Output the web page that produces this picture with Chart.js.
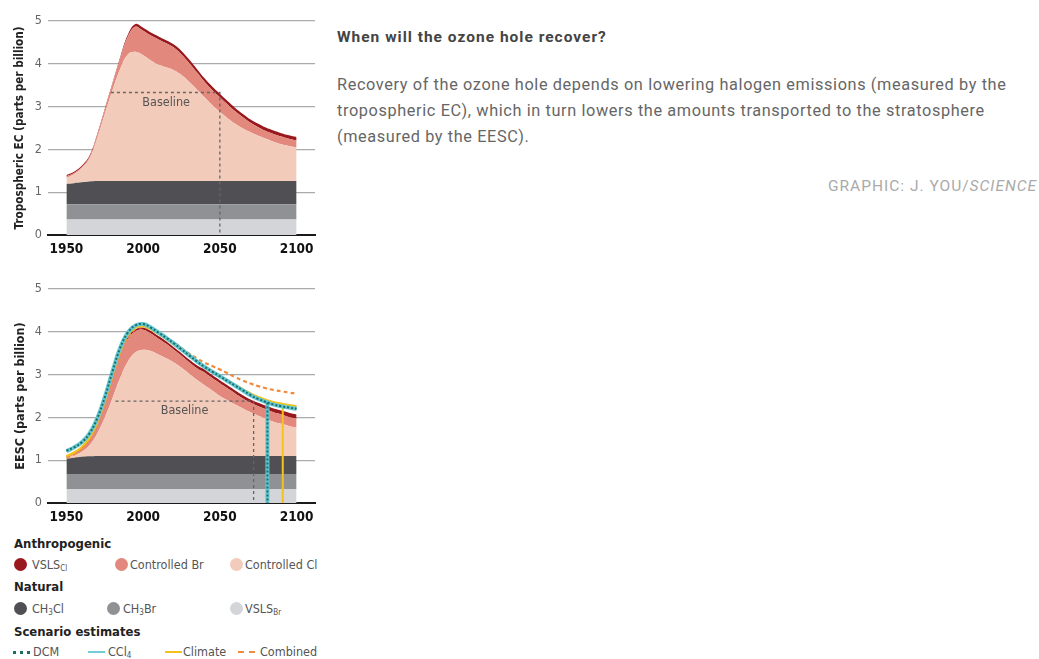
<!DOCTYPE html>
<html>
<head>
<meta charset="utf-8">
<script src="https://cdn.jsdelivr.net/npm/chart.js@4.4.1/dist/chart.umd.min.js"></script>
<style>
  body { margin:0; background:#fff; width:1039px; height:659px; position:relative; overflow:hidden; font-family: Roboto, sans-serif; }
  .box { position:absolute; left:0; width:330px; height:265px; }
  #box1 { top:0; }
  #box2 { top:268px; }
  .cond { font-family: "Liberation Sans Narrow", "DejaVu Sans Condensed", sans-serif; }
  .abs { position:absolute; white-space:nowrap; }
  .hdr { font-weight:bold; font-size:13px; color:#222; line-height:16px; }
  .item { font-size:12.5px; color:#555; line-height:16px; }
  .item sub { font-size:8px; vertical-align:-2px; line-height:0; }
  .dot { position:absolute; width:13px; height:13px; border-radius:50%; }
  .ln { position:absolute; width:17px; height:0; }
  #title { left:337px; top:28px; font-weight:bold; font-size:15.5px; letter-spacing:1px; color:#444; line-height:18px; }
  #para { left:337px; top:72px; font-size:16.3px; letter-spacing:0.62px; color:#666; line-height:26px; }
  #credit { right:2px; top:177px; font-size:15.5px; letter-spacing:1px; color:#aaa; line-height:18px; }
</style>
</head>
<body>
<div class="box" id="box1"><canvas id="ec"></canvas></div>
<div class="box" id="box2"><canvas id="eesc"></canvas></div>

<div class="cond">
  <div class="abs hdr" style="left:14px;top:536px">Anthropogenic</div>
  <div class="dot" style="left:14px;top:558px;background:#99181d"></div>
  <div class="abs item" style="left:32px;top:557px">VSLS<sub>Cl</sub></div>
  <div class="dot" style="left:115px;top:558px;background:#e2887c"></div>
  <div class="abs item" style="left:130px;top:557px">Controlled Br</div>
  <div class="dot" style="left:230px;top:558px;background:#f3cbbb"></div>
  <div class="abs item" style="left:245px;top:557px">Controlled Cl</div>

  <div class="abs hdr" style="left:14px;top:579px">Natural</div>
  <div class="dot" style="left:14px;top:602px;background:#505054"></div>
  <div class="abs item" style="left:32px;top:601px">CH<sub>3</sub>Cl</div>
  <div class="dot" style="left:107px;top:602px;background:#8f9194"></div>
  <div class="abs item" style="left:123px;top:601px">CH<sub>3</sub>Br</div>
  <div class="dot" style="left:230px;top:602px;background:#d4d5d8"></div>
  <div class="abs item" style="left:245px;top:601px">VSLS<sub>Br</sub></div>

  <div class="abs hdr" style="left:14px;top:624px">Scenario estimates</div>
  <div class="ln" style="left:13px;top:651px;border-top:3px dotted #1b6e63"></div>
  <div class="abs item" style="left:33px;top:644px">DCM</div>
  <div class="ln" style="left:88px;top:651px;border-top:2px solid #72ccd6"></div>
  <div class="abs item" style="left:108px;top:644px">CCl<sub>4</sub></div>
  <div class="ln" style="left:165px;top:651px;border-top:2px solid #f5c21b"></div>
  <div class="abs item" style="left:183px;top:644px">Climate</div>
  <div class="ln" style="left:238px;top:651px;border-top:2.5px dashed #f08a3c"></div>
  <div class="abs item" style="left:260px;top:644px">Combined</div>
</div>

<div class="abs" id="title">When will the ozone hole recover?</div>
<div class="abs" id="para">Recovery of the ozone hole depends on lowering halogen emissions (measured by the<br>tropospheric EC), which in turn lowers the amounts transported to the stratosphere<br>(measured by the EESC).</div>
<div class="abs" id="credit">GRAPHIC: J. YOU/<i>SCIENCE</i></div>

<script>
const years = [1950,1955,1960,1965,1970,1975,1980,1985,1990,1995,2000,2005,2010,2015,2020,2025,
               2030,2035,2040,2045,2050,2055,2060,2065,2070,2075,2080,2085,2090,2095,2100];
const xTicks = [1950, 2000, 2050, 2100];
const yTicks = [0, 1, 2, 3, 4, 5];

// Tropospheric EC, stacked contributions (ppb)
const ecVslsBr = [0.36,0.36,0.36,0.36,0.36,0.36,0.36,0.36,0.36,0.36,0.36,0.36,0.36,0.36,0.36,0.36,
                  0.36,0.36,0.36,0.36,0.36,0.36,0.36,0.36,0.36,0.36,0.36,0.36,0.36,0.36,0.36];
const ecCh3Br  = [0.36,0.36,0.36,0.36,0.36,0.36,0.36,0.36,0.36,0.36,0.36,0.36,0.36,0.36,0.36,0.36,
                  0.36,0.36,0.36,0.36,0.36,0.36,0.36,0.36,0.36,0.36,0.36,0.36,0.36,0.36,0.36];
const ecCh3Cl  = [0.47,0.49,0.51,0.53,0.54,0.54,0.54,0.54,0.54,0.54,0.54,0.54,0.54,0.54,0.54,0.54,
                  0.54,0.54,0.54,0.54,0.54,0.54,0.54,0.54,0.54,0.54,0.54,0.54,0.54,0.54,0.54];
const ecCtrlCl = [0.14,0.21,0.33,0.53,0.99,1.56,2.12,2.62,2.96,3.02,2.94,2.82,2.72,2.66,2.59,2.48,
                  2.32,2.14,1.96,1.78,1.62,1.47,1.34,1.23,1.14,1.06,0.99,0.92,0.86,0.82,0.78];
const ecCtrlBr = [0.04,0.03,0.03,0.04,0.07,0.10,0.14,0.23,0.41,0.59,0.57,0.58,0.59,0.56,0.53,0.48,
                  0.44,0.40,0.36,0.35,0.34,0.32,0.29,0.26,0.22,0.20,0.18,0.18,0.18,0.17,0.17];
const ecVslsCl = [0.03,0.03,0.03,0.03,0.03,0.03,0.03,0.04,0.05,0.06,0.07,0.07,0.07,0.07,0.07,0.08,
                  0.08,0.08,0.08,0.08,0.08,0.08,0.08,0.08,0.08,0.08,0.08,0.08,0.08,0.08,0.08];
const ecBaseline = [[1979, 3.33], [2050, 3.33], [2050, 0]];

// EESC, stacked contributions (ppb)
const esVslsBr = [0.33,0.33,0.33,0.33,0.33,0.33,0.33,0.33,0.33,0.33,0.33,0.33,0.33,0.33,0.33,0.33,
                  0.33,0.33,0.33,0.33,0.33,0.33,0.33,0.33,0.33,0.33,0.33,0.33,0.33,0.33,0.33];
const esCh3Br  = [0.35,0.35,0.35,0.35,0.35,0.35,0.35,0.35,0.35,0.35,0.35,0.35,0.35,0.35,0.35,0.35,
                  0.35,0.35,0.35,0.35,0.35,0.35,0.35,0.35,0.35,0.35,0.35,0.35,0.35,0.35,0.35];
const esCh3Cl  = [0.36,0.38,0.40,0.41,0.42,0.42,0.42,0.42,0.42,0.42,0.42,0.42,0.42,0.42,0.42,0.42,
                  0.42,0.42,0.42,0.42,0.42,0.42,0.42,0.42,0.42,0.42,0.42,0.42,0.42,0.42,0.42];
const esCtrlCl = [0.03,0.06,0.12,0.26,0.52,0.90,1.35,1.82,2.20,2.42,2.48,2.45,2.37,2.28,2.18,2.06,
                  1.92,1.78,1.65,1.53,1.40,1.30,1.20,1.11,1.02,0.94,0.87,0.80,0.75,0.70,0.66];
const esCtrlBr = [0.01,0.03,0.07,0.12,0.20,0.32,0.47,0.54,0.53,0.49,0.47,0.41,0.37,0.34,0.30,0.28,
                  0.27,0.27,0.30,0.29,0.30,0.28,0.26,0.23,0.22,0.22,0.22,0.22,0.22,0.21,0.21];
const esVslsCl = [0.03,0.03,0.03,0.03,0.03,0.03,0.03,0.04,0.05,0.05,0.05,0.06,0.06,0.06,0.06,0.06,
                  0.06,0.07,0.07,0.07,0.07,0.07,0.07,0.08,0.08,0.08,0.08,0.09,0.09,0.10,0.10];
const esBaseline = [[1982, 2.38], [2072, 2.38], [2072, 0]];

// EESC scenario estimates (ppb)
const dcm      = [1.22,1.30,1.42,1.62,1.97,2.47,3.07,3.62,3.98,4.15,4.18,4.10,3.98,3.86,3.73,3.59,
                  3.45,3.31,3.18,3.07,2.96,2.85,2.74,2.63,2.52,2.43,2.36,2.30,2.26,2.23,2.20];
const ccl4     = [1.21,1.30,1.42,1.62,1.97,2.47,3.07,3.62,3.98,4.15,4.18,4.10,3.98,3.86,3.73,3.59,
                  3.45,3.31,3.18,3.07,2.96,2.85,2.74,2.63,2.52,2.43,2.36,2.30,2.26,2.23,2.20];
const climate  = [1.10,1.18,1.31,1.52,1.88,2.38,2.98,3.54,3.92,4.10,4.13,4.06,3.95,3.83,3.70,3.57,
                  3.43,3.30,3.17,3.06,2.96,2.86,2.76,2.66,2.56,2.48,2.41,2.36,2.32,2.29,2.26];
const combined = [1.06,1.14,1.27,1.48,1.84,2.34,2.94,3.50,3.88,4.07,4.11,4.06,3.97,3.87,3.75,3.62,
                  3.49,3.38,3.28,3.20,3.12,3.03,2.94,2.86,2.79,2.73,2.68,2.64,2.61,2.58,2.56];
const dcmReturn     = [[2081, 2.35], [2081, 0]];
const climateReturn = [[2091, 2.31], [2091, 0]];

const COND = '"Liberation Sans Narrow", "DejaVu Sans Condensed", sans-serif';
Chart.defaults.font.family = COND;

function pts(vals) { return vals.map((v, i) => ({ x: years[i], y: v })); }
function xy(pairs) { return pairs.map(p => ({ x: p[0], y: p[1] })); }

function areaSets(parts) {
  const colors = ['#d4d5d8', '#8f9194', '#505054', '#f3cbbb', '#e2887c', '#99181d'];
  return parts.map((vals, i) => ({
    data: pts(vals), backgroundColor: colors[i], borderWidth: 0,
    fill: i === 0 ? 'origin' : '-1', pointRadius: 0, tension: 0.4, order: 10
  }));
}

function lineSet(data, color, width, dash, order, tension) {
  return { data: data, borderColor: color, borderWidth: width, borderDash: dash,
           fill: false, pointRadius: 0, tension: tension, yAxisID: 'yl', order: order };
}

const labelPlugin = {
  id: 'baselineLabel',
  afterDatasetsDraw(chart, args, opts) {
    const ctx = chart.ctx;
    ctx.save();
    ctx.font = '12.5px ' + COND;
    ctx.fillStyle = '#555';
    ctx.textAlign = 'center';
    ctx.textBaseline = 'middle';
    ctx.fillText('Baseline', chart.scales.x.getPixelForValue(opts.at[0]), chart.scales.y.getPixelForValue(opts.at[1]));
    ctx.restore();
  }
};

function makeChart(id, datasets, yTitle, titleSize, labelAt) {
  return new Chart(document.getElementById(id), {
    type: 'line',
    data: { datasets: datasets },
    plugins: [labelPlugin],
    options: {
      responsive: true, maintainAspectRatio: false, animation: false,
      layout: { padding: { top: 21, right: 15, left: 0, bottom: 0 } },
      plugins: { legend: { display: false }, tooltip: { enabled: false }, baselineLabel: { at: labelAt } },
      scales: {
        x: {
          type: 'linear', min: 1938, max: 2112, z: 1,
          afterBuildTicks: s => { s.ticks = xTicks.map(v => ({ value: v })); },
          afterFit: s => { s.height = 30; },
          grid: { display: false, drawTicks: false },
          border: { color: '#1a1a1a', width: 2 },
          ticks: { color: '#111', font: { size: 13.5, weight: 'bold' }, padding: 6, maxRotation: 0, callback: v => String(v) }
        },
        y: {
          stacked: true, min: 0, max: 5,
          afterBuildTicks: s => { s.ticks = yTicks.map(v => ({ value: v })); },
          afterFit: s => { s.width = 48; },
          grid: { color: '#aaaaaa', lineWidth: 1.3, drawTicks: false },
          border: { display: false },
          ticks: { color: '#666', font: { size: 12.5 }, padding: 6 },
          title: { display: true, text: yTitle, color: '#222', font: { size: titleSize, weight: 'bold' }, padding: { top: 13, bottom: 0 } }
        },
        yl: { display: false, stacked: false, min: 0, max: 5 }
      }
    }
  });
}

makeChart('ec', [
  ...areaSets([ecVslsBr, ecCh3Br, ecCh3Cl, ecCtrlCl, ecCtrlBr, ecVslsCl]),
  lineSet(xy(ecBaseline), '#666', 1.3, [3, 3], 5, 0)
], 'Tropospheric EC (parts per billion)', 11.7, [2015, 3.08]);

makeChart('eesc', [
  ...areaSets([esVslsBr, esCh3Br, esCh3Cl, esCtrlCl, esCtrlBr, esVslsCl]),
  lineSet(xy(esBaseline), '#666', 1.3, [3, 3], 5, 0),
  lineSet(pts(combined), '#f08a3c', 2.2, [4, 3], 4, 0.4),
  lineSet(pts(climate), '#f5c21b', 2.2, [], 3, 0.4),
  lineSet(xy(climateReturn), '#f5c21b', 2, [], 3, 0),
  lineSet(pts(ccl4), '#62c6d2', 4, [], 2, 0.4),
  lineSet(xy(dcmReturn), '#62c6d2', 4, [], 2, 0),
  lineSet(pts(dcm), '#1b6e63', 2, [2, 2], 1, 0.4),
  lineSet(xy(dcmReturn), '#1b6e63', 2, [2, 2], 1, 0)
], 'EESC (parts per billion)', 12.5, [2027, 2.16]);
</script>
</body>
</html>
